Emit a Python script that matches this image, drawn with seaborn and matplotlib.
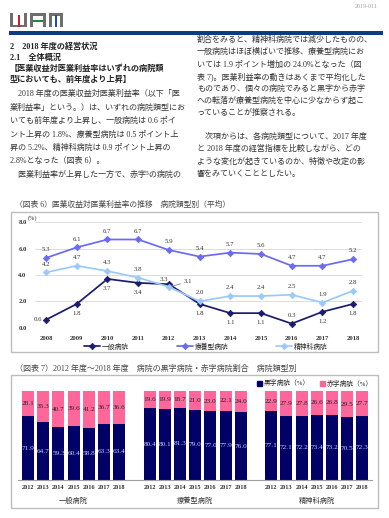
import numpy as np
import pandas as pd
import matplotlib
matplotlib.use("Agg")
import matplotlib.pyplot as plt
import seaborn as sns
from matplotlib.patches import Rectangle

# ---------------- data ----------------
years6 = ['2008', '2009', '2010', '2011', '2012', '2013', '2014', '2015', '2016', '2017', '2018']
series6 = ['一般病院', '療養型病院', '精神科病院']
general_rate = [0.6, 1.8, 3.7, 3.4, 3.3, 1.8, 1.1, 1.1, 0.3, 1.2, 1.8]
longterm_rate = [5.3, 6.1, 6.7, 6.7, 5.9, 5.4, 5.7, 5.6, 4.7, 4.7, 5.2]
psych_rate = [4.2, 4.7, 4.3, 3.8, 3.1, 2.0, 2.4, 2.4, 2.5, 1.9, 2.8]
yticks6 = [0.0, 2.0, 4.0, 6.0, 8.0]

years7 = ['2012', '2013', '2014', '2015', '2016', '2017', '2018']
groups7 = ['一般病院', '療養型病院', '精神科病院']
legend7 = ['黒字病院（%）', '赤字病院（%）']
black_general = [71.9, 64.7, 59.3, 60.4, 58.8, 63.3, 63.4]
red_general = [28.1, 35.3, 40.7, 39.6, 41.2, 36.7, 36.6]
black_longterm = [80.4, 80.1, 81.3, 79.0, 77.0, 77.9, 76.0]
red_longterm = [19.6, 19.9, 18.7, 21.0, 23.0, 22.1, 24.0]
black_psych = [77.1, 72.1, 72.2, 73.4, 73.2, 70.5, 72.3]
red_psych = [22.9, 27.9, 27.8, 26.6, 26.8, 29.5, 27.7]

# ---------------- style ----------------
sns.set_theme(style='white')
FAM = ['Liberation Serif', 'Noto Sans CJK JP', 'DejaVu Sans']
plt.rcParams['font.family'] = FAM

W, H = 389, 518
fig = plt.figure(figsize=(W / 100, H / 100), dpi=100)
fig.patch.set_facecolor('white')


def fx(x):
    return x / W


def fy(y):
    return 1 - y / H


def T(x, y, s, size=5.8, weight='normal', color='#222222', ha='left', va='center'):
    fig.text(fx(x), fy(y), s, fontsize=size, fontweight=weight, color=color,
             ha=ha, va=va, family=FAM)


def rect_px(x0, y0, x1, y1, **kw):
    fig.add_artist(Rectangle((fx(x0), fy(y1)), fx(x1) - fx(x0), fy(y0) - fy(y1),
                             transform=fig.transFigure, **kw))


# ---------------- header ----------------
grey = '#6e6e6e'
# W
rect_px(10, 13, 13, 27, color=grey, lw=0)
rect_px(24, 13, 27, 27, color=grey, lw=0)
rect_px(10, 25, 27, 27, color=grey, lw=0)
rect_px(17.5, 15, 20, 27, color='#d0202a', lw=0)
# A
rect_px(30, 13, 33, 27, color=grey, lw=0)
rect_px(43, 13, 46, 27, color=grey, lw=0)
rect_px(30, 13, 46, 15.5, color=grey, lw=0)
rect_px(33, 19.5, 43, 21.5, color='#1a8a3a', lw=0)
# M
rect_px(49, 13, 52, 27, color=grey, lw=0)
rect_px(60, 13, 63, 27, color=grey, lw=0)
rect_px(49, 13, 63, 15.5, color=grey, lw=0)
rect_px(54.5, 15, 57, 27, color='#1a4fb0', lw=0)

rect_px(9, 30.7, 383, 35, color='#0d3a80', lw=0)
T(378, 7, '2019-011', size=4.3, color='#a0a0a0', ha='right')

# ---------------- body text ----------------
T(10, 47, '2　2018 年度の経営状況', size=5.9, weight='bold')
T(10, 58, '2.1　全体概況', size=5.9, weight='bold')
T(10, 69, '【医業収益対医業利益率はいずれの病院類', size=5.9, weight='bold')
T(10, 80, '型においても、前年度より上昇】', size=5.9, weight='bold')
left_lines = [
    '　2018 年度の医業収益対医業利益率（以下「医',
    '業利益率」という。）は、いずれの病院類型にお',
    'いても前年度より上昇し、一般病院は 0.6 ポイ',
    'ント上昇の 1.8%、療養型病院は 0.5 ポイント上',
    '昇の 5.2%、精神科病院は 0.9 ポイント上昇の',
    '2.8%となった（図表 6）。',
    '　医業利益率が上昇した一方で、赤字⁵の病院の',
]
for i, s in enumerate(left_lines):
    T(10, 94 + 13.5 * i, s, size=5.8, color='#333333')

right_lines = [
    '割合をみると、精神科病院では減少したものの、',
    '一般病院はほぼ横ばいで推移、療養型病院にお',
    'いては 1.9 ポイント増加の 24.0%となった（図',
    '表 7)。医業利益率の動きはあくまで平均化した',
    'ものであり、個々の病院でみると黒字から赤字',
    'への転落が療養型病院を中心に少なからず起こ',
    'っていることが推察される。',
]
for i, s in enumerate(right_lines):
    T(197, 40 + 12.2 * i, s, size=5.8, color='#333333')
right_lines2 = [
    '　次項からは、各病院類型について、2017 年度',
    'と 2018 年度の経営指標を比較しながら、どの',
    'ような変化が起きているのか、特徴や改定の影',
    '響をみていくこととしたい。',
]
for i, s in enumerate(right_lines2):
    T(197, 137 + 12.3 * i, s, size=5.8, color='#333333')

# ---------------- chart 6 ----------------
T(15, 205, '（図表 6）医業収益対医業利益率の推移　病院類型別（平均）', size=5.6, color='#444444')
rect_px(11, 212, 378, 352, fill=False, edgecolor='#bdbdbd', lw=1.0)

ax6 = fig.add_axes([fx(35), fy(328), (362 - 35) / W, (328 - 222) / H])
xpos6 = list(range(len(years6)))
colors6 = ['#1c1c6c', '#6a6af2', '#9ccaf8']
vals6 = [general_rate, longterm_rate, psych_rate]
for name, vals, c in zip(series6, vals6, colors6):
    sns.lineplot(x=xpos6, y=vals, ax=ax6, color=c, marker='D', markersize=3.3,
                 markeredgecolor=c, markeredgewidth=0.5, linewidth=1.25, label=name)

ax6.set_xlim(-0.36, 10.29)
ax6.set_ylim(-0.03, 8.03)
ax6.set_yticks(yticks6, labels=[f'{v:.1f}' for v in yticks6])
ax6.set_xticks(xpos6, labels=years6)
ax6.tick_params(axis='both', length=0, labelsize=4.8, labelcolor='#333333')
ax6.tick_params(axis='y', pad=6.0)
ax6.tick_params(axis='x', pad=5.5)
for lab in ax6.get_xticklabels() + ax6.get_yticklabels():
    lab.set_fontweight('bold')
ax6.yaxis.grid(True, color='#d6d6d6', lw=0.6)
ax6.xaxis.grid(False)
ax6.set_axisbelow(True)
for sp in ax6.spines.values():
    sp.set_visible(False)
ax6.set_xlabel('')
ax6.set_ylabel('')
ax6.set_facecolor('none')
T(28, 218, '(%)', size=4.6, color='#333333')

place = {
    0: ['left', 'below', 'below', 'below', 'aboveleft', 'below', 'below', 'below', 'above', 'below', 'below'],
    1: ['above'] * 11,
    2: ['above', 'above', 'above', 'above', 'leader', 'above', 'above', 'above', 'above', 'above', 'above'],
}
offs = {'above': (0, 6.0, 'center'), 'below': (0, -7.0, 'center'),
        'left': (-3, 0, 'right'), 'aboveleft': (-3.5, 3.2, 'center'),
        'leader': (14, 3.5, 'center')}
for si, vals in enumerate(vals6):
    for xi, v in enumerate(vals):
        dx, dy, ha = offs[place[si][xi]]
        kw = {}
        if place[si][xi] == 'leader':
            kw['arrowprops'] = dict(arrowstyle='-', color='#777777', lw=0.5, shrinkA=0, shrinkB=3)
        ax6.annotate(f'{v:.1f}', (xi, v), xytext=(dx, dy), textcoords='offset points',
                     ha=ha, va='center', fontsize=4.9, color='#333333', **kw)

h6, l6 = ax6.get_legend_handles_labels()
ax6.legend(h6, l6, loc='center left', bbox_to_anchor=(fx(84), fy(346)),
           bbox_transform=fig.transFigure, ncol=3, frameon=False, fontsize=4.9,
           handlelength=2.35, handletextpad=0.3, columnspacing=7.0,
           borderpad=0, borderaxespad=0)

# ---------------- chart 7 ----------------
T(15, 369, '（図表 7）2012 年度～2018 年度　病院の黒字病院・赤字病院割合　病院類型別',
  size=5.8, color='#444444')
rect_px(11, 375, 378, 508, fill=False, edgecolor='#bdbdbd', lw=1.0)

ax7 = fig.add_axes([fx(18), fy(480), (372 - 18) / W, (480 - 391) / H])
blacks = black_general + black_longterm + black_psych
reds = red_general + red_longterm + red_psych
positions = [g * (len(years7) + 1) + i for g in range(len(groups7)) for i in range(len(years7))]
totals = [b + r for b, r in zip(blacks, reds)]
navy, pink = '#000066', '#ff6699'
sns.barplot(x=positions, y=totals, native_scale=True, color=pink, saturation=1,
            width=0.79, errorbar=None, ax=ax7, linewidth=0)
sns.barplot(x=positions, y=blacks, native_scale=True, color=navy, saturation=1,
            width=0.79, errorbar=None, ax=ax7, linewidth=0)
for p, b, r in zip(positions, blacks, reds):
    ax7.text(p, b / 2, f'{b:.1f}', ha='center', va='center', fontsize=5.2, color='#c4ccff')
    ax7.text(p, b + r / 2, f'{r:.1f}', ha='center', va='center', fontsize=5.2, color='#222233')

ax7.set_xlim(-0.66, 22.63)
ax7.set_ylim(0, 100)
ax7.set_xticks(positions, labels=years7 * len(groups7))
ax7.set_yticks([])
ax7.tick_params(axis='x', length=0, labelsize=4.5, labelcolor='#333333', pad=3.5)
for lab in ax7.get_xticklabels():
    lab.set_fontweight('bold')
for name, sp in ax7.spines.items():
    sp.set_visible(name == 'bottom')
ax7.spines['bottom'].set_color('#a0a0a0')
ax7.spines['bottom'].set_linewidth(0.8)
ax7.set_xlabel('')
ax7.set_ylabel('')
ax7.set_facecolor('none')
for g, name in enumerate(groups7):
    ax7.text(g * (len(years7) + 1) + (len(years7) - 1) / 2, -0.225, name,
             transform=ax7.get_xaxis_transform(), ha='center', va='center',
             fontsize=5.2, color='#333333')

h7 = [Rectangle((0, 0), 1, 1, color=navy), Rectangle((0, 0), 1, 1, color=pink)]
fig.legend(h7, legend7, loc='center left', bbox_to_anchor=(fx(257), fy(383)),
           ncol=2, frameon=False, fontsize=4.9, handlelength=0.75, handleheight=0.75,
           handletextpad=0.3, columnspacing=1.4, borderpad=0, borderaxespad=0)

fig.savefig('out.png', dpi=100, facecolor='white')
